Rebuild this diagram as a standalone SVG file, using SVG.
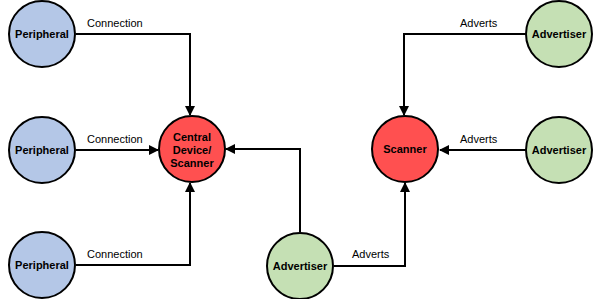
<svg xmlns="http://www.w3.org/2000/svg" width="600" height="299" viewBox="0 0 600 299">
<style>
.n{stroke:#000;stroke-width:2}
.p{fill:#b4c7e7}
.r{fill:#ff5050}
.g{fill:#c5e0b4}
.t{font-family:"Liberation Sans",Arial,sans-serif;font-size:11px;font-weight:bold;text-anchor:middle;fill:#000}
.l{font-family:"Liberation Sans",Arial,sans-serif;font-size:11px;fill:#000}
.c{fill:none;stroke:#000;stroke-width:2}
</style>
<defs>
<marker id="a" markerWidth="10" markerHeight="10" refX="9" refY="5" orient="auto" markerUnits="userSpaceOnUse">
<path d="M0,0 L10,5 L0,10 z" fill="#000"/>
</marker>
</defs>
<rect width="600" height="299" fill="#fff"/>
<g id="connectors">
<path class="c" d="M76,34 H190 V115" marker-end="url(#a)"/>
<path class="c" d="M76,150 H158" marker-end="url(#a)"/>
<path class="c" d="M76,265 H190 V183" marker-end="url(#a)"/>
<path class="c" d="M300,232 V149 H226" marker-end="url(#a)"/>
<path class="c" d="M334,266 H405 V183" marker-end="url(#a)"/>
<path class="c" d="M526,34 H404 V115" marker-end="url(#a)"/>
<path class="c" d="M526,150 H440" marker-end="url(#a)"/>
<text class="l" x="87" y="27">Connection</text>
<text class="l" x="87" y="143">Connection</text>
<text class="l" x="87" y="258">Connection</text>
<text class="l" x="460" y="27">Adverts</text>
<text class="l" x="460" y="143">Adverts</text>
<text class="l" x="352" y="258">Adverts</text>
</g>
<g id="peripheral1"><circle class="n p" cx="42" cy="34" r="33"/><text class="t" x="42" y="38">Peripheral</text></g>
<g id="peripheral2"><circle class="n p" cx="42" cy="150" r="33"/><text class="t" x="42" y="154">Peripheral</text></g>
<g id="peripheral3"><circle class="n p" cx="42" cy="265" r="33"/><text class="t" x="42" y="269">Peripheral</text></g>
<g id="central"><circle class="n r" cx="192" cy="149" r="33"/><text class="t" x="192" y="141">Central</text><text class="t" x="192" y="154">Device/</text><text class="t" x="192" y="167">Scanner</text></g>
<g id="advertiser-bottom"><circle class="n g" cx="300" cy="266" r="33"/><text class="t" x="300" y="270">Advertiser</text></g>
<g id="scanner"><circle class="n r" cx="405" cy="149" r="33"/><text class="t" x="405" y="153">Scanner</text></g>
<g id="advertiser-top"><circle class="n g" cx="559" cy="34" r="33"/><text class="t" x="559" y="38">Advertiser</text></g>
<g id="advertiser-mid"><circle class="n g" cx="559" cy="150" r="33"/><text class="t" x="559" y="154">Advertiser</text></g>
</svg>
